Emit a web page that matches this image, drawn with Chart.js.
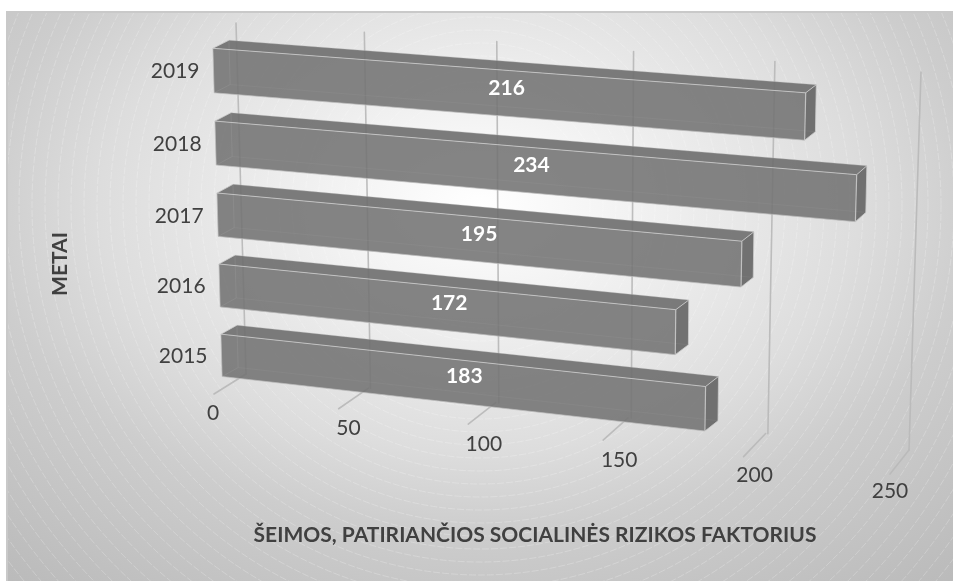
<!DOCTYPE html>
<html>
<head>
<meta charset="utf-8">
<title>Šeimos, patiriančios socialinės rizikos faktorius</title>
<script src="https://cdn.jsdelivr.net/npm/chart.js@4"></script>
<style>
    html, body { margin: 0; padding: 0; background: #fff; }
    canvas { display: block; }
</style>
</head>
<body>
<canvas id="myChart" width="953" height="581"></canvas>
<script>
var years = ['2015', '2016', '2017', '2018', '2019'];
var families = [183, 172, 195, 234, 216];
var xTicks = [0, 50, 100, 150, 200, 250];
var xTitle = 'ŠEIMOS, PATIRIANČIOS SOCIALINĖS RIZIKOS FAKTORIUS';
var yTitle = 'METAI';

// projection corners on screen: top-left, top-right, bottom-right, bottom-left
var frontCorners = [[212.5, 34], [907, 85], [895, 467], [222.5, 390]];
var backCorners = [[228.5, 26], [916, 77], [906, 456], [238.5, 381]];
var wallCorners = [[236, 23], [921, 72], [909, 450], [246, 374]];
var floorCorners = [[246, 374], [909, 450], [890, 474], [214, 394]];
var xLabelLine = [[213, 413], [890, 491]];

var textColor = '#404040';
var fontName = 'Lato, Carlito, sans-serif';

// unit square -> quad
function makeProjection(q) {
    var dx1 = q[1][0] - q[2][0], dx2 = q[3][0] - q[2][0], sx = q[0][0] - q[1][0] + q[2][0] - q[3][0];
    var dy1 = q[1][1] - q[2][1], dy2 = q[3][1] - q[2][1], sy = q[0][1] - q[1][1] + q[2][1] - q[3][1];
    var det = dx1 * dy2 - dx2 * dy1;
    var g = (sx * dy2 - dx2 * sy) / det;
    var h = (dx1 * sy - sx * dy1) / det;
    var a = q[1][0] - q[0][0] + g * q[1][0], b = q[3][0] - q[0][0] + h * q[3][0], c = q[0][0];
    var d = q[1][1] - q[0][1] + g * q[1][1], e = q[3][1] - q[0][1] + h * q[3][1], f = q[0][1];
    return function (u, w) {
        var z = g * u + h * w + 1;
        return [(a * u + b * w + c) / z, (d * u + e * w + f) / z];
    };
}
var front = makeProjection(frontCorners);
var back = makeProjection(backCorners);
var wall = makeProjection(wallCorners);
var floorPlane = makeProjection(floorCorners);

function fillFace(ctx, pts, color) {
    ctx.beginPath();
    ctx.moveTo(pts[0][0], pts[0][1]);
    for (var i = 1; i < pts.length; i++) ctx.lineTo(pts[i][0], pts[i][1]);
    ctx.closePath();
    ctx.fillStyle = color;
    ctx.fill();
}

function strokeLine(ctx, p, q, color, width) {
    ctx.beginPath();
    ctx.moveTo(p[0], p[1]);
    ctx.lineTo(q[0], q[1]);
    ctx.strokeStyle = color;
    ctx.lineWidth = width;
    ctx.stroke();
}

// background panel with the radial gradient and thin rings
var backgroundPlugin = {
    id: 'panelBackground',
    beforeDraw: function (chart) {
        var ctx = chart.ctx;
        ctx.save();
        ctx.fillStyle = '#fff';
        ctx.fillRect(0, 0, chart.width, chart.height);
        ctx.beginPath();
        ctx.rect(7, 12, chart.width - 7, chart.height - 12);
        ctx.clip();
        ctx.save();
        ctx.translate(480, 205);
        ctx.scale(1, 0.65);
        var grad = ctx.createRadialGradient(0, 0, 0, 0, 0, 760);
        grad.addColorStop(0, '#ffffff');
        grad.addColorStop(140 / 760, '#f3f3f3');
        grad.addColorStop(380 / 760, '#dddddd');
        grad.addColorStop(500 / 760, '#cdcdcd');
        grad.addColorStop(725 / 760, '#bcbcbc');
        grad.addColorStop(1, '#bababa');
        ctx.fillStyle = grad;
        ctx.fillRect(-600, -500, 1200, 1400);
        ctx.restore();
        ctx.strokeStyle = 'rgba(255,255,255,0.38)';
        ctx.lineWidth = 0.6;
        ctx.setLineDash([7, 2]);
        for (var r = 110; r < 720; r += 13) {
            ctx.beginPath();
            ctx.arc(480, 205, r, 0, Math.PI * 2);
            ctx.stroke();
        }
        ctx.restore();
        ctx.fillStyle = '#c9c9c9';
        ctx.fillRect(7, 11, chart.width - 7, 2);
        ctx.fillRect(6, 11, 2, chart.height - 11);
    }
};

// wall grid, floor ticks and bars in perspective, all taken from the scales
var perspectivePlugin = {
    id: 'perspective',
    beforeDatasetsDraw: function (chart) {
        var ctx = chart.ctx;
        var xs = chart.scales.x;
        var area = chart.chartArea;
        ctx.save();
        ctx.lineCap = 'round';
        xs.ticks.forEach(function (t) {
            var u = (xs.getPixelForValue(t.value) - area.left) / area.width;
            strokeLine(ctx, wall(u, 0), wall(u, 1), 'rgba(185,185,185,0.95)', 1.6);
            strokeLine(ctx, floorPlane(u, 0), floorPlane(u, 1), 'rgba(185,185,185,0.95)', 1.6);
        });
        ctx.restore();
    },
    afterDatasetsDraw: function (chart) {
        var ctx = chart.ctx;
        var area = chart.chartArea;
        var meta = chart.getDatasetMeta(0);
        ctx.save();
        ctx.lineJoin = 'round';
        // top rows are further back, draw them first
        for (var i = meta.data.length - 1; i >= 0; i--) {
            var bar = meta.data[i];
            var u0 = (bar.base - area.left) / area.width;
            var u1 = (bar.x - area.left) / area.width;
            var w0 = (bar.y - bar.height / 2 - area.top) / area.height;
            var w1 = (bar.y + bar.height / 2 - area.top) / area.height;
            var ftl = front(u0, w0), ftr = front(u1, w0), fbr = front(u1, w1), fbl = front(u0, w1);
            var btl = back(u0, w0), btr = back(u1, w0), bbr = back(u1, w1), bbl = back(u0, w1);

            fillFace(ctx, [btl, btr, ftr, ftl], 'rgba(110,110,110,0.9)');
            fillFace(ctx, [ftr, btr, bbr, fbr], 'rgba(100,100,100,0.9)');
            fillFace(ctx, [ftl, ftr, fbr, fbl], 'rgba(115,115,115,0.88)');

            // faint edges seen through the bar
            strokeLine(ctx, btl, bbl, 'rgba(190,190,190,0.14)', 1);
            strokeLine(ctx, bbl, bbr, 'rgba(190,190,190,0.08)', 1);
            strokeLine(ctx, bbl, fbl, 'rgba(190,190,190,0.14)', 1);

            var edge = 'rgba(205,205,205,0.8)';
            strokeLine(ctx, ftl, ftr, edge, 1);
            strokeLine(ctx, ftr, fbr, edge, 1.2);
            strokeLine(ctx, ftl, fbl, 'rgba(190,190,190,0.7)', 1);
            strokeLine(ctx, fbl, fbr, 'rgba(190,190,190,0.7)', 1);
            strokeLine(ctx, ftl, btl, edge, 1);
            strokeLine(ctx, ftr, btr, edge, 1);
            strokeLine(ctx, btr, bbr, edge, 1);
            strokeLine(ctx, bbr, fbr, edge, 1);
            strokeLine(ctx, btl, btr, 'rgba(190,190,190,0.4)', 0.8);
        }
        ctx.restore();
    },
    afterDraw: function (chart) {
        var ctx = chart.ctx;
        var area = chart.chartArea;
        var xs = chart.scales.x;
        var ys = chart.scales.y;
        var meta = chart.getDatasetMeta(0);
        ctx.save();
        ctx.textBaseline = 'middle';

        // tick labels along the value axis
        ctx.font = '21px ' + fontName;
        ctx.fillStyle = textColor;
        ctx.textAlign = 'center';
        xs.ticks.forEach(function (t) {
            var u = (xs.getPixelForValue(t.value) - area.left) / area.width;
            var lx = xLabelLine[0][0] + u * (xLabelLine[1][0] - xLabelLine[0][0]);
            var ly = xLabelLine[0][1] + u * (xLabelLine[1][1] - xLabelLine[0][1]);
            ctx.fillText(t.label, lx, ly);
        });

        // year labels to the left of the bars
        ctx.textAlign = 'right';
        ys.ticks.forEach(function (t, i) {
            var w = (ys.getPixelForTick(i) - area.top) / area.height;
            var p = front(0, w);
            ctx.fillText(t.label, p[0] - 14, p[1] + 1);
        });

        // value labels on the bars
        ctx.font = 'bold 21px ' + fontName;
        ctx.fillStyle = '#ffffff';
        ctx.textAlign = 'center';
        meta.data.forEach(function (bar, i) {
            var u = ((bar.base + bar.x) / 2 - area.left) / area.width;
            var w = (bar.y - area.top) / area.height;
            var f = front(u, w), b = back(u, w);
            ctx.fillText(families[i], (f[0] + b[0]) / 2, (f[1] + b[1]) / 2);
        });

        // axis titles
        ctx.fillStyle = textColor;
        ctx.font = 'bold 21px ' + fontName;
        ctx.fillText(xTitle, 535, 535);
        ctx.translate(60, 264);
        ctx.rotate(-Math.PI / 2);
        ctx.fillText(yTitle, 0, 0);
        ctx.restore();
    }
};

var chart = new Chart(document.getElementById('myChart').getContext('2d'), {
    type: 'bar',
    data: {
        labels: years,
        datasets: [{
            label: xTitle,
            data: families,
            // the faces are painted by the perspective plugin
            backgroundColor: 'rgba(0,0,0,0)',
            borderWidth: 0,
            barPercentage: 0.61,
            categoryPercentage: 1
        }]
    },
    plugins: [backgroundPlugin, perspectivePlugin],
    options: {
        indexAxis: 'y',
        responsive: false,
        animation: false,
        events: [],
        layout: { padding: 0 },
        plugins: {
            legend: { display: false },
            tooltip: { enabled: false }
        },
        scales: {
            x: {
                type: 'linear',
                min: xTicks[0],
                max: xTicks[xTicks.length - 1],
                ticks: { stepSize: 50 },
                grid: { display: false },
                border: { display: false },
                afterFit: function (s) { s.height = 0; }
            },
            y: {
                reverse: true,
                grid: { display: false },
                border: { display: false },
                afterFit: function (s) { s.width = 0; }
            }
        }
    }
});
</script>
</body>
</html>
